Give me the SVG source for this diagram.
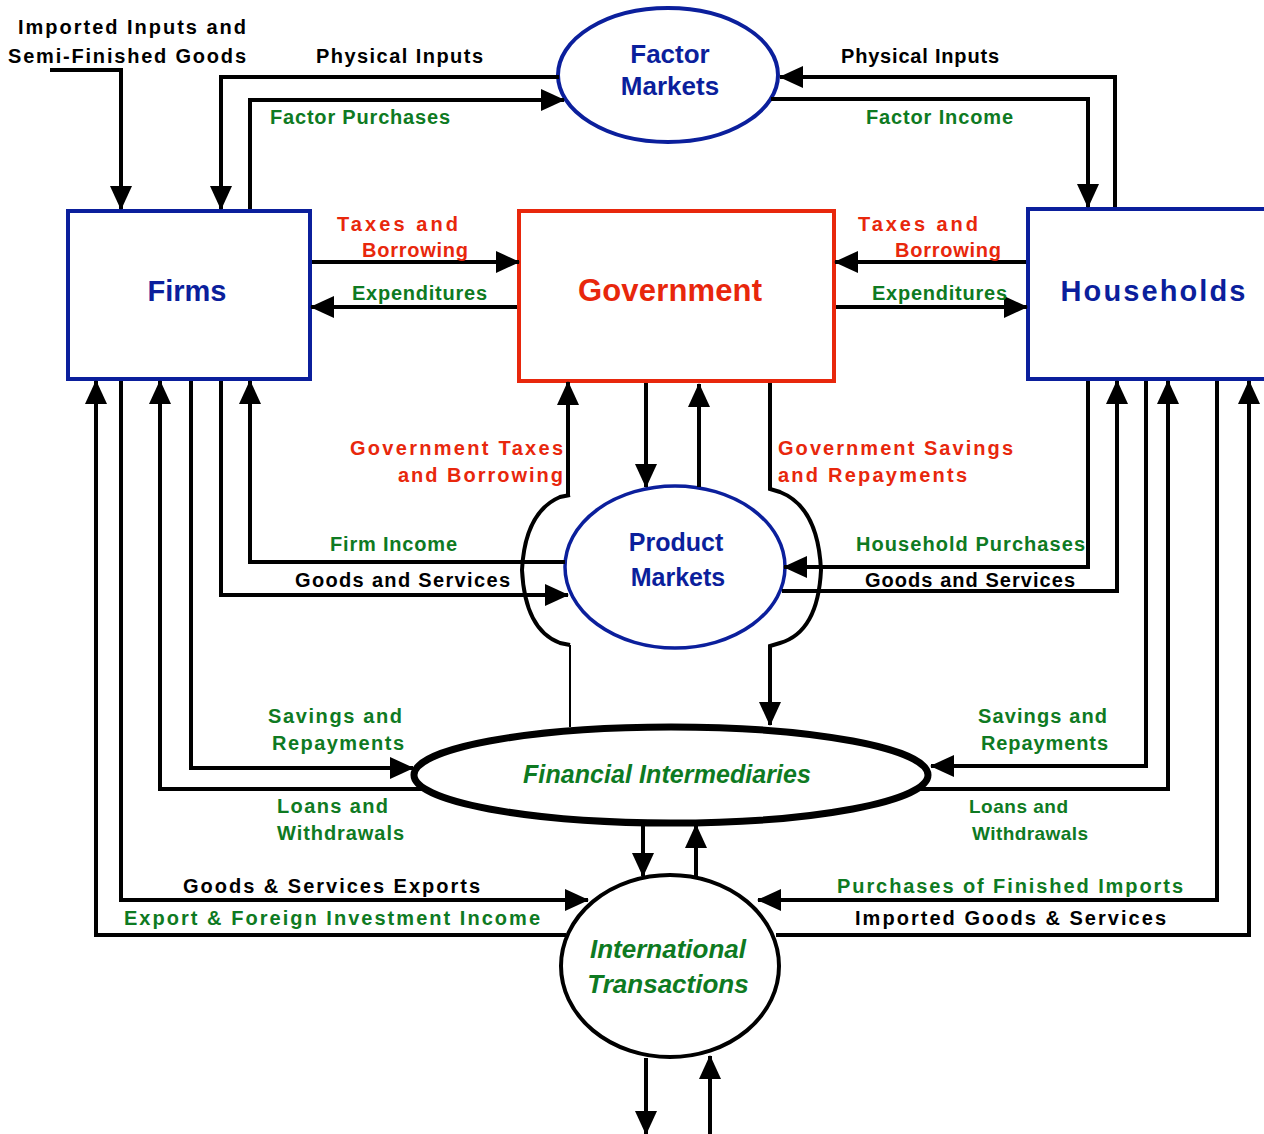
<svg xmlns="http://www.w3.org/2000/svg" width="1264" height="1134" viewBox="0 0 1264 1134">
<defs>
<marker id="ah" markerUnits="userSpaceOnUse" markerWidth="24" markerHeight="24" refX="23" refY="11" orient="auto">
<path d="M0,0 L24,11 L0,22 Z" fill="#000"/>
</marker>
<style>
text{font-family:"Liberation Sans",Arial,sans-serif;font-weight:bold}
.lb{font-size:20px}
.k{fill:#000}
.g{fill:#0e7a22}
.r{fill:#e8270c}
.b{fill:#0b1f9c}
.it{font-style:italic}
.c{stroke:#000;stroke-width:4;fill:none;marker-end:url(#ah)}
.cn{stroke:#000;stroke-width:4;fill:none}
</style>
</defs>
<rect width="1264" height="1134" fill="#fff"/>

<g id="firms">
<rect x="68" y="211" width="242" height="168" fill="#fff" stroke="#0b1f9c" stroke-width="4"/>
<text class="b" x="187" y="301" font-size="29" text-anchor="middle">Firms</text>
</g>
<g id="government">
<rect x="519" y="211" width="315" height="170" fill="#fff" stroke="#e8270c" stroke-width="4"/>
<text class="r" x="670" y="301" font-size="31" text-anchor="middle" textLength="184">Government</text>
</g>
<g id="households">
<rect x="1028" y="209" width="260" height="170" fill="#fff" stroke="#0b1f9c" stroke-width="4"/>
<text class="b" x="1153" y="301" font-size="29" text-anchor="middle" textLength="185">Households</text>
</g>
<g id="factor-markets">
<ellipse cx="668" cy="75" rx="110" ry="67" fill="#fff" stroke="#0b1f9c" stroke-width="4"/>
<text class="b" x="670" y="63" font-size="26" text-anchor="middle">Factor</text>
<text class="b" x="670" y="95" font-size="26" text-anchor="middle">Markets</text>
</g>
<g id="product-markets">
<ellipse cx="675" cy="567" rx="110" ry="81" fill="#fff" stroke="#0b1f9c" stroke-width="3.5"/>
<text class="b" x="676" y="551" font-size="25" text-anchor="middle">Product</text>
<text class="b" x="678" y="586" font-size="25" text-anchor="middle">Markets</text>
</g>
<g id="financial-intermediaries">
<ellipse cx="671" cy="775" rx="257" ry="48" fill="#fff" stroke="#000" stroke-width="7"/>
<text class="g it" x="667" y="783" font-size="25" text-anchor="middle" textLength="288">Financial Intermediaries</text>
</g>
<g id="international-transactions">
<ellipse cx="670" cy="966" rx="109" ry="91" fill="#fff" stroke="#000" stroke-width="4"/>
<text class="g it" x="668" y="958" font-size="26" text-anchor="middle">International</text>
<text class="g it" x="668" y="993" font-size="26" text-anchor="middle">Transactions</text>
</g>

<g id="connectors">
<path class="c" d="M50,70 H121 V209"/>
<path class="c" d="M559,77 H221 V209"/>
<path class="c" d="M250,209 V100 H564"/>
<path class="c" d="M1115,207 V77 H780"/>
<path class="c" d="M771,99 H1088 V207"/>
<path class="c" d="M312,262 H519"/>
<path class="c" d="M517,307 H311"/>
<path class="c" d="M1026,262 H835"/>
<path class="c" d="M836,307 H1027"/>
<path class="c" d="M568,496 V382"/>
<path class="cn" d="M570,495 L560,497 Q525,512 522,570 Q525,630 560,643 L570,645"/>
<path d="M570,645 V727" stroke="#000" stroke-width="2" fill="none"/>
<path class="c" d="M646,383 V487"/>
<path class="c" d="M699,487 V384"/>
<path class="c" d="M770,383 V489 L780,492 Q818,507 821,570 Q818,632 780,643 L770,646 V725"/>
<path class="c" d="M565,562 H250 V381"/>
<path class="c" d="M221,381 V595 H568"/>
<path class="c" d="M1088,381 V567 H784"/>
<path class="c" d="M782,591 H1117 V381"/>
<path class="c" d="M191,381 V768 H413"/>
<path class="c" d="M424,789 H160 V381"/>
<path class="c" d="M1146,381 V766 H931"/>
<path class="c" d="M918,789 H1168 V381"/>
<path class="c" d="M121,381 V900 H588"/>
<path class="c" d="M566,935 H96 V381"/>
<path class="c" d="M1217,381 V900 H758"/>
<path class="c" d="M776,935 H1249 V381"/>
<path class="c" d="M643,824 V876"/>
<path class="c" d="M696,877 V825"/>
<path class="c" d="M646,1058 V1134"/>
<path class="c" d="M710,1134 V1056"/>
</g>

<g id="labels">
<text class="lb k" x="246" y="34" text-anchor="end" textLength="228">Imported Inputs and</text>
<text class="lb k" x="246" y="63" text-anchor="end" textLength="238">Semi-Finished Goods</text>
<text class="lb k" x="316" y="63" textLength="167">Physical Inputs</text>
<text class="lb g" x="270" y="124" textLength="180">Factor Purchases</text>
<text class="lb k" x="841" y="63" textLength="158">Physical Inputs</text>
<text class="lb g" x="866" y="124" textLength="147">Factor Income</text>
<text class="lb r" x="337" y="231" textLength="121">Taxes and</text>
<text class="lb r" x="362" y="257" textLength="106">Borrowing</text>
<text class="lb g" x="352" y="300" textLength="135">Expenditures</text>
<text class="lb r" x="858" y="231" textLength="120">Taxes and</text>
<text class="lb r" x="895" y="257" textLength="106">Borrowing</text>
<text class="lb g" x="872" y="300" textLength="135">Expenditures</text>
<text class="lb r" x="350" y="455" textLength="213">Government  Taxes</text>
<text class="lb r" x="398" y="482" textLength="165">and  Borrowing</text>
<text class="lb r" x="778" y="455" textLength="235">Government  Savings</text>
<text class="lb r" x="778" y="482" textLength="189">and  Repayments</text>
<text class="lb g" x="330" y="551" textLength="127">Firm Income</text>
<text class="lb k" x="295" y="587" textLength="215">Goods and Services</text>
<text class="lb g" x="856" y="551" textLength="229">Household Purchases</text>
<text class="lb k" x="865" y="587" textLength="210">Goods and Services</text>
<text class="lb g" x="268" y="723" textLength="134">Savings and</text>
<text class="lb g" x="272" y="750" textLength="132">Repayments</text>
<text class="lb g" x="277" y="813" textLength="111">Loans and</text>
<text class="lb g" x="277" y="840" textLength="127">Withdrawals</text>
<text class="lb k" x="183" y="893" textLength="297">Goods &amp; Services Exports</text>
<text class="lb g" x="124" y="925" textLength="416">Export &amp; Foreign Investment Income</text>
<text class="lb g" x="978" y="723" textLength="129">Savings and</text>
<text class="lb g" x="981" y="750" textLength="127">Repayments</text>
<text class="g" x="969" y="813" font-size="19" textLength="99">Loans and</text>
<text class="g" x="972" y="840" font-size="19" textLength="116">Withdrawals</text>
<text class="lb g" x="837" y="893" textLength="346">Purchases of Finished Imports</text>
<text class="lb k" x="855" y="925" textLength="311">Imported Goods &amp; Services</text>
</g>
</svg>
